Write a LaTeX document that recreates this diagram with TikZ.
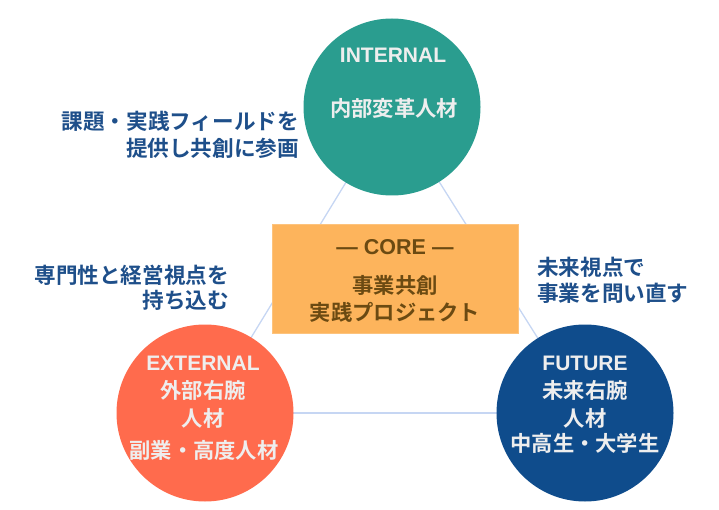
\documentclass[tikz,border=0pt]{standalone}
\usepackage{fontspec}
\setmainfont{Noto Sans CJK JP}[BoldFont={Noto Sans CJK JP Bold}]
\newfontfamily\latin{Liberation Sans}
\usetikzlibrary{backgrounds}
\definecolor{cteal}{HTML}{2A9D8F}
\definecolor{cred}{HTML}{FF6B4D}
\definecolor{cnavy}{HTML}{0F4C8C}
\definecolor{corange}{HTML}{FDB45C}
\definecolor{ccoretext}{HTML}{6B4A12}
\definecolor{clabel}{HTML}{1E4F8A}
\definecolor{cline}{HTML}{C6D6F3}
\definecolor{cctext}{HTML}{EEEEEE}
\tikzset{
  bubble/.style={circle, minimum size=177pt, inner sep=0pt, draw=none},
  ctext/.style={text=cctext, inner sep=0pt, font=\bfseries\fontsize{21.3}{25}\selectfont},
  clatin/.style={text=cctext, inner sep=0pt, font=\latin\bfseries\fontsize{21}{25}\selectfont},
  lbl/.style={text=clabel, inner sep=0pt, font=\bfseries\fontsize{21.6}{26}\selectfont},
  coretxt/.style={text=ccoretext, inner sep=0pt, font=\bfseries\fontsize{21.3}{26}\selectfont},
  link/.style={draw=cline, line width=1.3pt},
}
\begin{document}
\begin{tikzpicture}[x=1pt,y=-1pt]
\useasboundingbox (0,0) rectangle (719,510);
% circles
\node[bubble, fill=cteal] (int) at (392,107) {};
\node[bubble, fill=cred] (ext) at (205,413) {};
\node[bubble, fill=cnavy] (fut) at (585,413) {};
% connectors behind
\begin{scope}[on background layer]
\draw[link] (int.center) -- (ext.center);
\draw[link] (int.center) -- (fut.center);
\draw[link] (ext.center) -- (fut.center);
\end{scope}
% core box
\node[fill=corange, draw=corange!80!white, minimum width=246pt, minimum height=109pt, inner sep=0pt] (core) at (395,278.5) {};
\node[coretxt, font=\latin\bfseries\fontsize{21.5}{26}\selectfont] (coret) at (395,247) {— CORE —};
\node[coretxt] (core1) at (395,285) {事業共創};
\node[coretxt] (core2) at (395,312) {実践プロジェクト};
% circle texts
\node[clatin] (intA) at (393,55) {INTERNAL};
\node[ctext] (intB) at (394,108) {内部変革人材};
\node[clatin] (extA) at (203,363) {EXTERNAL};
\node[ctext] (extB) at (203,390) {外部右腕};
\node[ctext] (extC) at (203,418) {人材};
\node[ctext] (extD) at (204,450) {副業・高度人材};
\node[clatin] (futA) at (585,363) {FUTURE};
\node[ctext] (futB) at (585,390) {未来右腕};
\node[ctext] (futC) at (585,418) {人材};
\node[ctext] (futD) at (585,443) {中高生・大学生};
% side labels
\node[lbl, anchor=east] (l1a) at (299,121) {課題・実践フィールドを};
\node[lbl, anchor=east] (l1b) at (299,148) {提供し共創に参画};
\node[lbl, anchor=east] (l2a) at (229,275) {専門性と経営視点を};
\node[lbl, anchor=east] (l2b) at (229,300) {持ち込む};
\node[lbl, anchor=west] (l3a) at (537,267) {未来視点で};
\node[lbl, anchor=west] (l3b) at (537,293) {事業を問い直す};
\end{tikzpicture}
\end{document}
